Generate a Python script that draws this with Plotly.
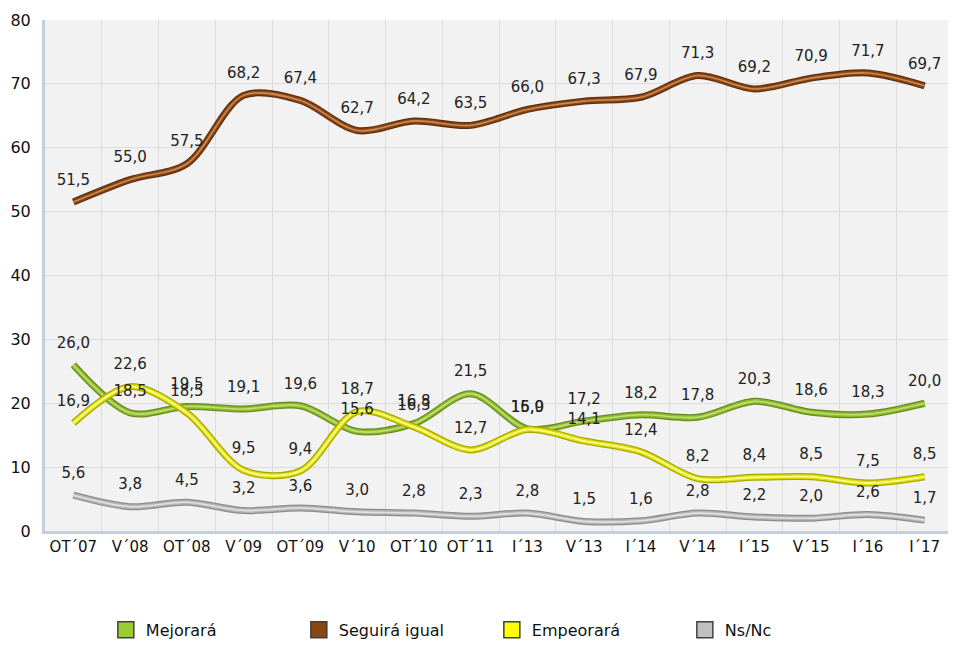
import plotly.graph_objects as go

categories = ["OT´07", "V´08", "OT´08", "V´09", "OT´09", "V´10", "OT´10", "OT´11",
              "I´13", "V´13", "I´14", "V´14", "I´15", "V´15", "I´16", "I´17"]
mejorara = [26.0, 18.5, 19.5, 19.1, 19.6, 15.6, 16.8, 21.5, 16.0, 17.2, 18.2, 17.8, 20.3, 18.6, 18.3, 20.0]
seguira = [51.5, 55.0, 57.5, 68.2, 67.4, 62.7, 64.2, 63.5, 66.0, 67.3, 67.9, 71.3, 69.2, 70.9, 71.7, 69.7]
empeorara = [16.9, 22.6, 18.5, 9.5, 9.4, 18.7, 16.3, 12.7, 15.9, 14.1, 12.4, 8.2, 8.4, 8.5, 7.5, 8.5]
nsnc = [5.6, 3.8, 4.5, 3.2, 3.6, 3.0, 2.8, 2.3, 2.8, 1.5, 1.6, 2.8, 2.2, 2.0, 2.6, 1.7]

series = [
    ("Mejorará", mejorara, ("#6b8a1e", "#8fba2e", "#bfe070"), "#9acd32"),
    ("Seguirá igual", seguira, ("#5e2e0c", "#8b4513", "#c98a55"), "#8b4513"),
    ("Empeorará", empeorara, ("#a8a800", "#dede10", "#ffff90"), "#ffff00"),
    ("Ns/Nc", nsnc, ("#8c8c8c", "#b4b4b4", "#e2e2e2"), "#c0c0c0"),
]

FONT = "DejaVu Sans"
fig = go.Figure()

for name, vals, (dark, mid, light), swatch in series:
    for w, c in ((7, dark), (4.5, mid), (1.6, light)):
        fig.add_trace(go.Scatter(
            x=categories, y=vals, mode="lines",
            line=dict(color=c, width=w, shape="spline", smoothing=0.9),
            showlegend=False, hoverinfo="skip"))

for name, vals, cols, swatch in series:
    fig.add_trace(go.Scatter(
        x=categories, y=vals, mode="markers+text",
        marker=dict(size=20, opacity=0),
        text=[f"{v:.1f}".replace(".", ",") for v in vals],
        textposition="top center",
        textfont=dict(family=FONT, size=15, color="#222222"),
        showlegend=False, cliponaxis=False, hoverinfo="skip"))

for name, vals, cols, swatch in series:
    fig.add_trace(go.Scatter(
        x=[None], y=[None], mode="markers", name=name,
        marker=dict(symbol="square", size=16, color=swatch,
                    line=dict(color="#404040", width=1.5))))

fig.update_layout(
    width=956, height=645,
    margin=dict(l=37, r=11, t=12, b=122, autoexpand=False),
    paper_bgcolor="white",
    plot_bgcolor="#f2f2f2",
    font=dict(family=FONT, size=15, color="#111111"),
    legend=dict(orientation="h", x=0.067, y=-0.16, xanchor="left", yanchor="top",
                entrywidth=148, entrywidthmode="pixels",
                font=dict(family=FONT, size=16, color="#111111"),
                bgcolor="rgba(0,0,0,0)"),
    xaxis=dict(type="category", range=[-0.5, 15.5], tickson="boundaries",
               showgrid=True, gridcolor="#dcdcdc", gridwidth=1, tickangle=0,
               ticks="", showline=True, linecolor="#c4cfdd", linewidth=3,
               tickfont=dict(family=FONT, size=15, color="#111111")),
    yaxis=dict(range=[0, 80], dtick=10, showgrid=True, gridcolor="#dcdcdc",
               gridwidth=1, zeroline=False, showline=True,
               linecolor="#c4cfdd", linewidth=3, ticks="", ticklabelstandoff=8,
               tickfont=dict(family=FONT, size=16, color="#111111")),
)

fig.write_html("out.html")
